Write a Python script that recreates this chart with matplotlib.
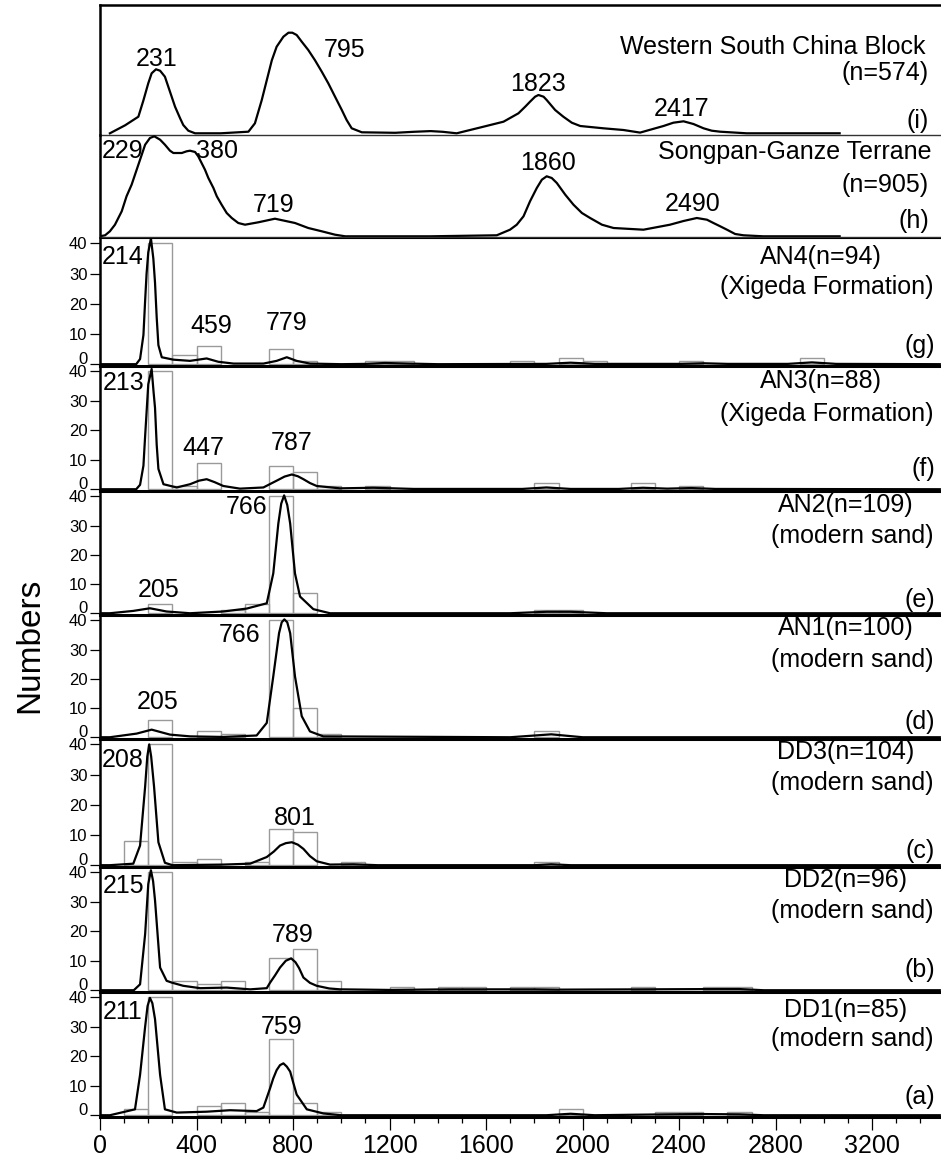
import matplotlib
matplotlib.use("Agg")
import matplotlib.pyplot as plt
from matplotlib.ticker import MultipleLocator

plt.rcParams['font.family'] = ['Liberation Sans', 'DejaVu Sans']

# ---- probability density curves (age in Ma, relative height) ----
i_age = [41, 104, 159, 180, 200, 214, 232, 249, 269, 290, 311, 332, 345, 366, 394, 500, 615, 642, 670, 691,
         712, 732, 760, 781, 797, 815, 836, 863, 891, 919, 946, 974, 1002, 1022, 1043, 1085, 1223, 1300,
         1370, 1420, 1478, 1589, 1672, 1734, 1762, 1782, 1803, 1817, 1838, 1851, 1886, 1920, 1955, 1990,
         2086, 2169, 2238, 2335, 2376, 2418, 2459, 2501, 2535, 2570, 2680, 3065]
i_val = [0, 8, 16.6, 33, 50, 60, 64, 62.6, 56.6, 41.6, 26.6, 15, 8.3, 2.6, 0, 0, 1.6, 10, 33, 53,
         73, 86.6, 96.6, 100.6, 100.6, 98.3, 91.6, 83.3, 73, 61.6, 50, 36.6, 23.3, 13.3, 5, 1, 0.5, 1.5,
         2.2, 1.5, 0, 6.6, 11.6, 20, 26.6, 31.6, 36.6, 38.3, 36.6, 33.3, 23.3, 16.6, 10.6, 7.3,
         5, 3.3, 0.7, 7.3, 10.6, 12, 9.3, 5, 2.6, 1.6, 0, 0]

h_age = [0, 21, 41, 62, 90, 110, 131, 159, 187, 207, 225, 249, 269, 290, 304, 339, 359, 373, 394, 407,
         421, 435, 449, 470, 484, 504, 525, 546, 573, 601, 656, 725, 808, 863, 919, 974, 1016, 1368, 1644,
         1699, 1727, 1755, 1782, 1810, 1831, 1851, 1872, 1893, 1928, 1962, 1997, 2031, 2080, 2128, 2252,
         2362, 2418, 2473, 2515, 2542, 2570, 2598, 2632, 2667, 2748, 3065]
h_val = [0, 1, 5, 11.6, 25, 40, 51.6, 71.6, 91.6, 98.3, 100, 96.6, 91.6, 85.6, 83.3, 83.3, 85, 85.6, 84.3, 80,
         73.3, 66.6, 58.3, 48.3, 40, 31.6, 23.3, 18.3, 13.3, 11.6, 14, 17.6, 13.3, 8.3, 5, 1.6, 0, 0, 1,
         6.6, 11.6, 20, 35, 48.3, 56.6, 60, 58.3, 53.3, 41.6, 31.6, 23.3, 18.3, 11.6, 8.3, 6.6,
         11.6, 15.3, 18.3, 16.6, 13.3, 10, 6.6, 2.3, 1, 0, 0]

g_age = [0, 150, 166, 180, 187, 193, 200, 211, 221, 228, 235, 242, 256, 304, 373, 442, 490, 553, 677, 732,
         774, 815, 870, 1000, 1100, 1180, 1280, 1400, 1850, 1950, 2050, 2400, 2500, 2600, 2850, 2950, 3050, 3480]
g_val = [0, 0, 1.7, 9.7, 21, 30, 37, 41.7, 35, 27, 15.4, 6.3, 2.3, 1.5, 1.1, 1.9, 0.8, 0.2, 0.2, 1.1,
         2.3, 1.1, 0.2, 0, 0.1, 0.4, 0.2, 0, 0.1, 0.5, 0.1, 0.1, 0.3, 0.1, 0.1, 0.6, 0.1, 0]

f_age = [0, 150, 166, 180, 187, 200, 214, 222, 228, 235, 242, 263, 318, 373, 410, 442, 475, 511, 580, 677,
         732, 765, 795, 820, 843, 870, 898, 995, 1133, 1300, 1750, 1850, 1950, 2150, 2250, 2350, 2450, 2550, 3480]
f_val = [0, 0, 1.5, 8, 18, 35.6, 40.8, 33, 27.6, 15, 6.9, 1.7, 0.6, 1.7, 2.9, 3.4, 2.4, 1.1, 0.2, 0.6,
         2.9, 4.3, 5, 4.4, 3.4, 2.1, 1.1, 0.3, 0.5, 0.1, 0.1, 0.6, 0.1, 0.1, 0.5, 0.2, 0.4, 0.1, 0]

e_age = [0, 41, 138, 207, 276, 373, 511, 608, 691, 718, 739, 751, 763, 776, 788, 808, 829, 884, 953,
         1700, 1850, 1950, 2100, 3480]
e_val = [0, 0, 0.8, 1.7, 0.6, 0, 0.6, 1.6, 3.4, 13.6, 30.7, 37.5, 40.3, 37, 30.7, 13.6, 5.7, 1.4, 0,
         0, 0.5, 0.5, 0, 0]

d_age = [0, 41, 152, 214, 290, 373, 511, 649, 691, 718, 742, 753, 764, 776, 788, 808, 836, 870, 925,
         1700, 1870, 2000, 3480]
d_val = [0, 0, 1.25, 2.6, 0.9, 0.3, 0.1, 0.6, 4.9, 20.8, 35.6, 39.3, 40.3, 39.3, 35.6, 20.8, 7.2, 2, 0.3,
         0, 1, 0, 0]

c_age = [0, 41, 138, 166, 187, 196, 204, 212, 224, 242, 269, 300, 511, 622, 691, 720, 746, 770, 795, 820,
         843, 870, 898, 953, 1050, 1150, 1800, 1870, 1950, 3480]
c_val = [0, 0, 0.5, 6.5, 26, 36, 40, 36, 26, 7.6, 0.8, 0, 0.2, 0.5, 2.7, 4.5, 6.5, 7.3, 7.6, 6.8,
         5.4, 3, 1.3, 0.2, 0.3, 0, 0, 0.3, 0, 0]

b_age = [0, 140, 166, 187, 200, 211, 220, 228, 249, 276, 297, 345, 415, 525, 622, 691, 705, 725, 746, 770,
         792, 810, 825, 843, 870, 898, 950, 995, 1200, 1450, 1550, 1800, 1900, 2250, 2550, 2650, 2750, 3480]
b_val = [0, 0, 2, 19, 36, 40.7, 37, 30.5, 7.7, 3.2, 2.6, 1.5, 0.7, 0.9, 0.3, 0.7, 2.6, 5, 7.7, 10,
         10.8, 9.5, 7.5, 4.3, 2.5, 1.5, 0.6, 0.3, 0.1, 0.3, 0.3, 0.3, 0.2, 0.3, 0.4, 0.4, 0, 0]

a_age = [0, 41, 145, 166, 187, 197, 207, 217, 228, 249, 269, 318, 442, 539, 649, 677, 705, 718, 732, 746,
         760, 774, 788, 801, 815, 857, 926, 1000, 1850, 1950, 2050, 2350, 2500, 2650, 2750, 3480]
a_val = [0, 0, 2, 13.7, 30, 37, 39.8, 38, 32.6, 13.7, 2, 0.9, 1.2, 1.7, 1.4, 2.6, 9.2, 12.5, 15.3, 17,
         17.6, 16.5, 14.8, 11, 7, 2, 0.6, 0, 0, 0.5, 0, 0.3, 0.4, 0.3, 0, 0]

# ---- histogram bins (left edge, Ma; 100 Ma wide) and counts ----
g_bins = [200, 300, 400, 700, 800, 1100, 1200, 1700, 1900, 2000, 2400, 2900]
g_counts = [40, 3, 6, 5, 1, 1, 1, 1, 2, 1, 1, 2]
f_bins = [200, 300, 400, 700, 800, 900, 1100, 1800, 2200, 2400]
f_counts = [40, 1, 9, 8, 6, 1, 1, 2, 2, 1]
e_bins = [200, 500, 600, 700, 800, 1800, 1900]
e_counts = [3, 1, 3, 40, 7, 1, 1]
d_bins = [200, 400, 500, 700, 800, 900, 1800]
d_counts = [6, 2, 1, 40, 10, 1, 2]
c_bins = [100, 200, 300, 400, 600, 700, 800, 1000, 1800]
c_counts = [8, 40, 1, 2, 1, 12, 11, 1, 1]
b_bins = [200, 300, 400, 500, 700, 800, 900, 1200, 1400, 1500, 1700, 1800, 2200, 2500, 2600]
b_counts = [40, 3, 2, 3, 11, 14, 3, 1, 1, 1, 1, 1, 1, 1, 1]
a_bins = [100, 200, 400, 500, 600, 700, 800, 900, 1900, 2300, 2400, 2600]
a_counts = [2, 40, 3, 4, 1, 26, 4, 1, 2, 1, 1, 1]

# ---- labels ----
i_peaks = ['231', '795', '1823', '2417']
h_peaks = ['229', '380', '719', '1860', '2490']
g_peaks = ['214', '459', '779']
f_peaks = ['213', '447', '787']
e_peaks = ['766', '205']
d_peaks = ['766', '205']
c_peaks = ['208', '801']
b_peaks = ['215', '789']
a_peaks = ['211', '759']

W, H = 941, 1159
fig = plt.figure(figsize=(W / 100, H / 100), dpi=100)


def px_text(x, y, s, ha='right', size=18):
    fig.text(x / W, 1 - y / H, s, ha=ha, va='center', fontsize=size)


def make_axes(top, bottom):
    return fig.add_axes([100 / W, 1 - bottom / H, (W - 100) / W, (bottom - top) / H])


# top two source panels: curves only
top_panels = [
    (5, 135, i_age, i_val, (-1.7, 128.3), i_peaks,
     [(235, 74.5), (1015, 83.5), (1813, 49.5), (2411, 24)],
     [('Western South China Block', 926, 47), ('(n=574)', 929, 73), ('(i)', 929, 121)]),
    (135, 237, h_age, h_val, (-0.7, 101.3), h_peaks,
     [(93, 84.8), (484, 84.8), (718, 31.5), (1855, 73.3), (2456, 32.5)],
     [('Songpan-Ganze Terrane', 931, 151.5), ('(n=905)', 929, 185), ('(h)', 929, 221)]),
]

for k, (top, bottom, xs, ys, ylim, labels, pos, side) in enumerate(top_panels):
    ax = make_axes(top, bottom)
    ax.plot(xs, ys, color='black', lw=1.6, solid_joinstyle='round')
    ax.set_xlim(0, 3485)
    ax.set_ylim(*ylim)
    ax.set_xticks([])
    ax.set_yticks([])
    ax.patch.set_alpha(0)
    ax.spines['right'].set_visible(False)
    ax.spines['left'].set_linewidth(1.8)
    ax.spines['bottom'].set_linewidth(1.0)
    ax.spines['bottom'].set_color('#333333')
    if k == 0:
        ax.spines['top'].set_linewidth(1.8)
    else:
        ax.spines['top'].set_visible(False)
    for lab, (x, y) in zip(labels, pos):
        ax.text(x, y, lab, ha='center', va='center', fontsize=18)
    for s, x, y in side:
        px_text(x, y, s)

# detrital zircon sample panels: histogram + curve
sample_panels = [
    (238, 366, g_bins, g_counts, g_age, g_val, g_peaks, [(93, 35.6), (459, 12.5), (772, 13.6)],
     'AN4(n=94)', '(Xigeda Formation)', '(g)', 257, 287, 346),
    (366, 491, f_bins, f_counts, f_age, f_val, f_peaks, [(97, 35.9), (428, 14.1), (794, 15.8)],
     'AN3(n=88)', '(Xigeda Formation)', '(f)', 381, 414, 469),
    (491, 615, e_bins, e_counts, e_age, e_val, e_peaks, [(608, 36.3), (242, 7.9)],
     'AN2(n=109)', '(modern sand)', '(e)', 505, 536, 600),
    (615, 739, d_bins, d_counts, d_age, d_val, d_peaks, [(579, 35), (238, 12)],
     'AN1(n=100)', '(modern sand)', '(d)', 628, 660, 722),
    (739, 867, c_bins, c_counts, c_age, c_val, c_peaks, [(92, 35), (808, 15.5)],
     'DD3(n=104)', '(modern sand)', '(c)', 752, 783, 851),
    (867, 992, b_bins, b_counts, b_age, b_val, b_peaks, [(97, 35.2), (799, 18.7)],
     'DD2(n=96)', '(modern sand)', '(b)', 880, 911, 970),
    (992, 1117, a_bins, a_counts, a_age, a_val, a_peaks, [(93, 35), (753, 30)],
     'DD1(n=85)', '(modern sand)', '(a)', 1010, 1039, 1097),
]

for k, (top, bottom, bins, counts, xs, ys, labels, pos, name, desc, tag, y1, y2, y3) in enumerate(sample_panels):
    ax = make_axes(top, bottom)
    ax.bar(bins, counts, width=100, align='edge', fill=False, edgecolor='#9a9a9a', lw=1.0, zorder=1)
    ax.plot(xs, ys, color='black', lw=1.6, solid_joinstyle='round', zorder=3)
    ax.set_xlim(0, 3485)
    ax.set_ylim(-0.6, 41.8)
    ax.patch.set_alpha(0)
    ax.spines['right'].set_visible(False)
    ax.spines['left'].set_linewidth(1.8)
    ax.spines['top'].set_linewidth(0.8)
    ax.spines['bottom'].set_linewidth(2.2)
    ax.set_yticks([0, 10, 20, 30, 40])
    ax.tick_params(axis='y', direction='out', length=7, width=0.9, labelsize=12, pad=2)
    # the "0" label sits just above its tick, as in the original figure
    ax.yaxis.get_major_ticks()[0].label1.set_verticalalignment('baseline')
    if k == len(sample_panels) - 1:
        ax.xaxis.set_minor_locator(MultipleLocator(100))
        ax.set_xticks(range(0, 3201, 400))
        ax.tick_params(axis='x', which='major', direction='out', length=9, width=0.9, labelsize=18, pad=3)
        ax.tick_params(axis='x', which='minor', direction='out', length=4, width=0.9)
    else:
        ax.set_xticks([])
    for lab, (x, y) in zip(labels, pos):
        ax.text(x, y, lab, ha='center', va='center', fontsize=18, zorder=4)
    xc = 821 if 'Xigeda' in desc else 846
    px_text(xc, y1, name, ha='center')
    px_text(xc + 6, y2, desc, ha='center')
    px_text(935, y3, tag)

fig.text(30 / W, 1 - 645 / H, 'Numbers', rotation=90, ha='center', va='center', fontsize=24)

plt.savefig('out.png', dpi=100)
